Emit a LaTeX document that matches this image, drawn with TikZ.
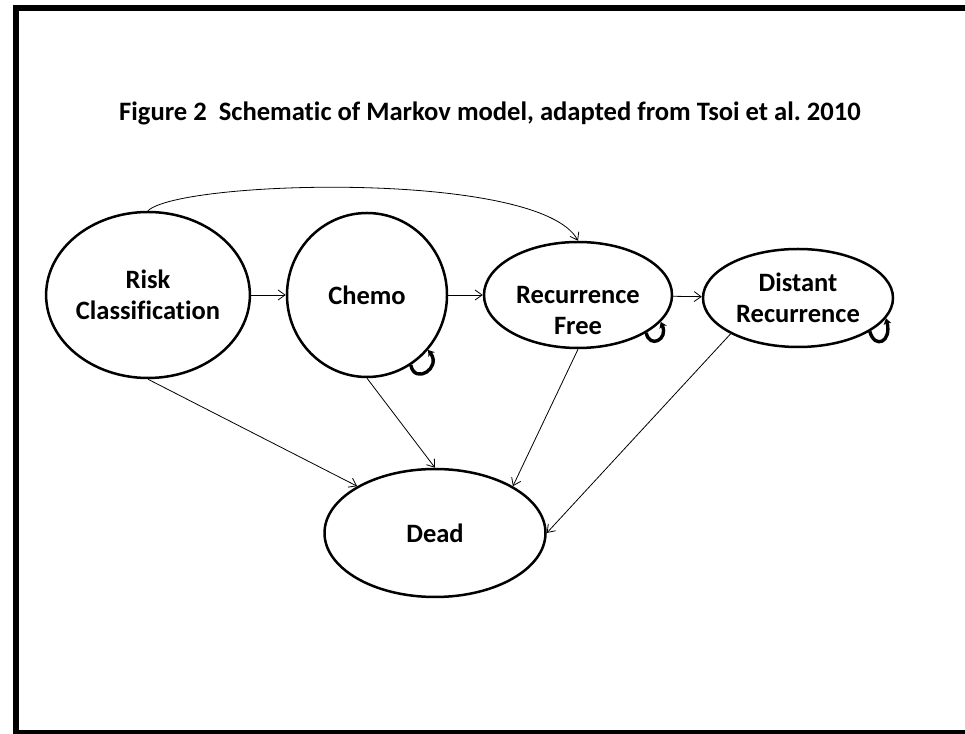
\documentclass[tikz,border=0pt]{standalone}
\usepackage{fontspec}
\setmainfont[Ligatures=NoCommon]{Carlito}
\usetikzlibrary{shapes.geometric,arrows.meta,calc}
\begin{document}
\frenchspacing
\begin{tikzpicture}[x=1pt,y=1pt,
  state/.style={ellipse,draw,line width=2.5pt,inner sep=0pt,align=center,
    font=\fontsize{26.5}{31}\selectfont\bfseries},
  statetext/.style={align=center,inner sep=0pt,font=\fontsize{26.5}{31}\selectfont\bfseries},
  trans/.style={line width=0.8pt,-{Straight Barb[length=7pt,width=10pt]}},
  selfloop/.style={line width=3.4pt,-{Stealth[length=6pt,width=8pt]}},
  frame/.style={line width=6pt}]
\useasboundingbox (0,0) rectangle (965,733);
\draw[frame] (965,724.5) -- (16,724.5) -- (16,0.5) -- (965,0.5);
\node[font=\fontsize{26.6}{30}\selectfont\bfseries] (title) at (490,620)
  {Figure 2\ \ Schematic of Markov model, adapted from Tsoi et al.\ 2010};
\node[state,minimum width=189pt,minimum height=166pt] (risk) at (148,438) {Risk\\Classification};
\node[state,minimum width=160pt,minimum height=164pt] (chemo) at (367,438) {Chemo};
\node[state,minimum width=188pt,minimum height=106pt] (rf) at (578,438) {};
\node[statetext] (rftext) at (578,422) {Recurrence\\Free};
\node[state,minimum width=190pt,minimum height=98pt] (dr) at (798,435) {Distant\\Recurrence};
\node[state,minimum width=221pt,minimum height=128pt] (dead) at (435,200) {Dead};
% transitions
\draw[trans] (risk) -- (chemo);
\draw[trans] (chemo) -- (rf);
\draw[trans] (rf) -- (dr);
\draw[trans] (risk.north) .. controls (180,553) and (540,563) .. (rf.north);
\draw[trans] (risk.south) -- (dead.149.5);
\draw[trans] (chemo.south) -- (dead.north);
\draw[trans] (rf.south) -- (dead.31.6);
\draw[trans] (dr.208) -- (dead.east);
% self loops
\draw[selfloop] (chemo.-58) .. controls ($(chemo.-58)+(4,-20)$) and ($(chemo.-42)+(14,-18)$) .. (chemo.-42);
\draw[selfloop] (rf.-29) .. controls ($(rf.-29)+(3,-16)$) and ($(rf.-18)+(8,-18)$) .. (rf.-18);
\draw[selfloop] (dr.-25) .. controls ($(dr.-25)+(5,-18)$) and ($(dr.-13)+(6,-24)$) .. (dr.-13);
\end{tikzpicture}
\end{document}
